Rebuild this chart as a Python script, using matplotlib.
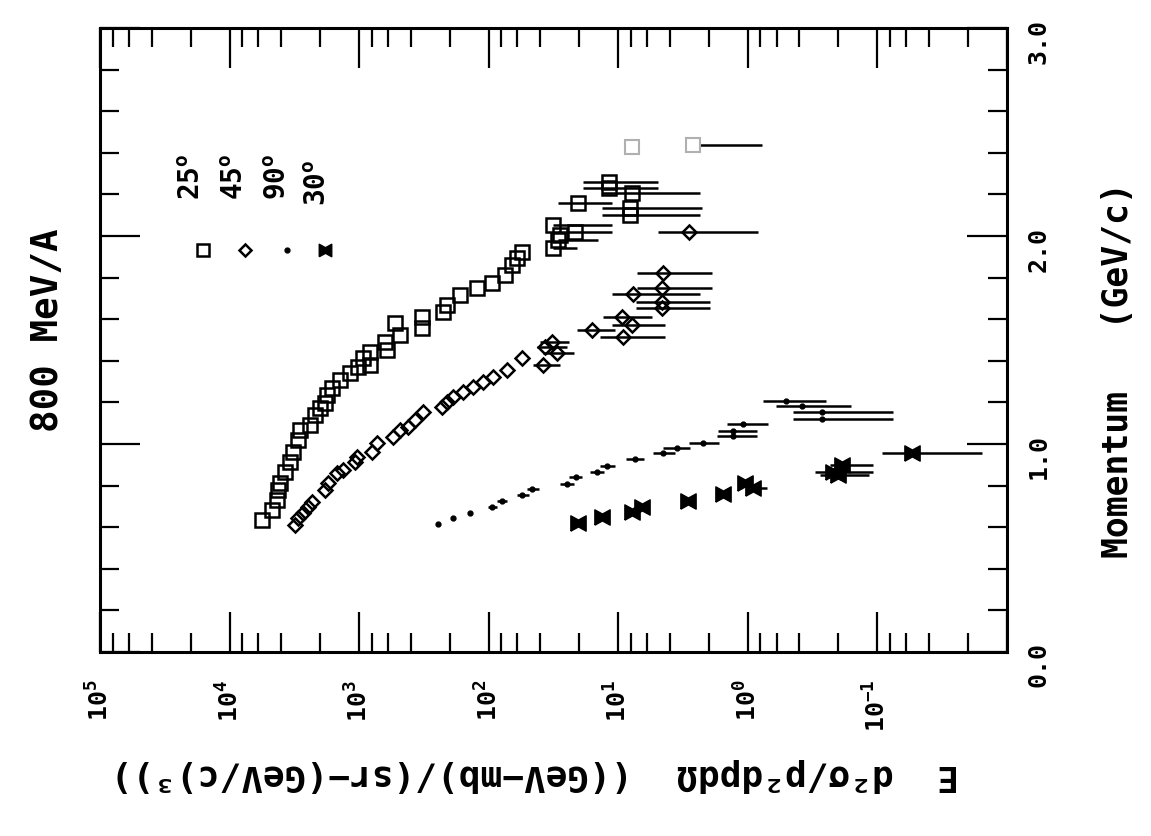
import numpy as np
import matplotlib
matplotlib.use("Agg")
import matplotlib.pyplot as plt
from matplotlib.ticker import LogLocator, NullFormatter, MultipleLocator

plt.rcParams['font.family'] = ['DejaVu Sans Mono']
plt.rcParams['font.weight'] = 'bold'
plt.rcParams['mathtext.fontset'] = 'custom'
plt.rcParams['mathtext.rm'] = 'DejaVu Sans Mono:bold'
plt.rcParams['mathtext.it'] = 'DejaVu Sans Mono:bold'
plt.rcParams['mathtext.bf'] = 'DejaVu Sans Mono:bold'

# 25 deg (open squares): momentum (GeV/c), cross section
sq_p = [0.635, 0.683, 0.731, 0.779, 0.813, 0.865, 0.913, 0.962, 1.019, 1.067,
        1.091, 1.139, 1.173, 1.197, 1.236, 1.269, 1.308, 1.341, 1.370, 1.413,
        1.442, 1.380, 1.490, 1.452, 1.582, 1.524, 1.611, 1.558, 1.635, 1.668,
        1.716, 1.750, 1.774, 1.813, 1.861, 1.894, 1.923, 1.942, 1.981, 2.005,
        2.053, 2.019, 2.159, 2.135, 2.101, 2.207, 2.260, 2.231]
sq_s = [5620, 4710, 4310, 4240, 4080, 3740, 3420, 3240, 2970, 2860,
        2400, 2190, 2010, 1840, 1770, 1620, 1410, 1180, 1020, 935,
        826, 826, 632, 610, 530, 484, 327, 327, 225, 210,
        167, 123, 94, 75, 66, 60, 55, 32, 29, 28,
        32, 21.6, 20.5, 8.13, 8.13, 7.85, 11.8, 11.8]
sq_bar_p = [1.942, 1.981, 2.019, 2.053, 2.159, 2.135, 2.101, 2.207, 2.260, 2.231]
sq_bar_hi = [32, 29, 29.3, 32, 29, 13.4, 13.4, 13.3, 18.8, 18.8]
sq_bar_lo = [20.8, 14.4, 11.2, 11.2, 11.2, 2.26, 2.35, 2.35, 4.95, 4.95]
# faint points near the top
sqf_p = [2.428, 2.438]
sqf_s = [7.85, 2.66]
sqf_bar_p = [2.438]
sqf_bar_hi = [2.34]
sqf_bar_lo = [0.78]

# 45 deg (open diamonds)
dm_p = [0.611, 0.644, 0.668, 0.697, 0.721, 0.779, 0.813, 0.861, 0.875, 0.913,
        0.938, 0.962, 1.005, 1.034, 1.067, 1.082, 1.115, 1.154, 1.178, 1.202,
        1.226, 1.250, 1.274, 1.298, 1.322, 1.356, 1.413, 1.380, 1.466, 1.490,
        1.438, 1.548, 1.611, 1.572, 1.514, 1.721, 1.683, 1.654, 1.822, 1.750,
        2.019]
dm_s = [3130, 2970, 2720, 2480, 2310, 1840, 1740, 1480, 1330, 1080,
        1040, 796, 729, 548, 484, 420, 371, 322, 230, 210,
        189, 158, 132, 111, 93, 72, 55, 38, 37, 32.5,
        29.8, 16.0, 9.38, 7.85, 9.2, 7.71, 4.61, 4.61, 4.53, 4.61,
        2.85]
dm_bar_p = [1.380, 1.466, 1.490, 1.438, 1.548, 1.611, 1.572, 1.514, 1.721,
            1.683, 1.654, 1.822, 1.750, 2.019]
dm_bar_hi = [45.6, 42.5, 40, 38, 20.8, 13.2, 11.2, 13.9, 11.2, 7.31, 7.31, 7.2, 7.2, 4.95]
dm_bar_lo = [28.3, 25, 24, 22, 10.6, 5.5, 4.37, 4.37, 2.35, 1.96, 1.96, 1.9, 1.9, 0.84]

# 90 deg (dots)
dt_p = [0.615, 0.644, 0.668, 0.697, 0.726, 0.755, 0.784, 0.808, 0.841, 0.865,
        0.894, 0.928, 0.957, 0.981, 1.005, 1.038, 1.063, 1.096, 1.207, 1.183,
        1.154, 1.120]
dt_s = [247, 189, 140, 94, 79, 55, 46, 25, 21.2, 14.6,
        12.2, 7.45, 4.53, 3.53, 2.22, 1.31, 1.31, 1.09, 0.509, 0.383,
        0.268, 0.268]
dt_bar_hi = [247, 189, 140, 102, 86, 61, 51, 28, 24, 16.5,
             13.8, 8.7, 5.4, 4.53, 2.85, 1.73, 1.70, 1.45, 0.766, 0.608,
             0.45, 0.45]
dt_bar_lo = [247, 189, 140, 87, 72, 49, 41, 22, 19, 12.8,
             10.6, 6.3, 3.66, 2.8, 1.67, 0.853, 0.853, 0.70, 0.25, 0.16,
             0.076, 0.076]

# 30 deg (bowties)
bt_p = [0.620, 0.649, 0.673, 0.697, 0.726, 0.760, 0.813, 0.788, 0.865, 0.899, 0.851, 0.957]
bt_s = [20.5, 13.4, 7.85, 6.58, 2.90, 1.56, 1.05, 0.914, 0.221, 0.188, 0.202, 0.0543]
bt_bar_p = [0.788, 0.865, 0.899, 0.851, 0.957]
bt_bar_hi = [0.914, 0.304, 0.233, 0.278, 0.0925]
bt_bar_lo = [0.71, 0.108, 0.108, 0.116, 0.0156]

legend_labels = ['25', '45', '90', '30']

x_major = [1e5, 1e4, 1e3, 1e2, 1e1, 1e0, 1e-1, 1e-2]
x_labels = [r'$\mathrm{10^{5}}$', r'$\mathrm{10^{4}}$', r'$\mathrm{10^{3}}$',
            r'$\mathrm{10^{2}}$', r'$\mathrm{10^{1}}$', r'$\mathrm{10^{0}}$',
            r'$\mathrm{10^{-1}}$', '']
y_major = [0.0, 1.0, 2.0, 3.0]
y_labels = ['0.0', '1.0', '2.0', '3.0']

bowtie = [(-1, -1), (-1, 1), (0, 0.45), (1, 1), (1, -1), (0, -0.45), (-1, -1)]

fig = plt.figure(figsize=(11.51, 8.36), dpi=100)
ax = fig.add_axes([0.0869, 0.2201, 0.7880, 0.7464])
ax.set_xscale('log')
ax.set_xlim(1e5, 1e-2)
ax.set_ylim(0, 3)

blw = 1.8
ax.hlines(sq_bar_p, sq_bar_lo, sq_bar_hi, color='black', lw=blw)
ax.hlines(sqf_bar_p, sqf_bar_lo, sqf_bar_hi, color='black', lw=blw)
ax.hlines(dm_bar_p, dm_bar_lo, dm_bar_hi, color='black', lw=blw)
ax.hlines(dt_p, dt_bar_lo, dt_bar_hi, color='black', lw=blw)
ax.hlines(bt_bar_p, bt_bar_lo, bt_bar_hi, color='black', lw=blw)

ax.plot(sq_s, sq_p, ls='none', marker='s', ms=9.5, mfc='none', mec='black', mew=1.8)
ax.plot(sqf_s, sqf_p, ls='none', marker='s', ms=9.5, mfc='none', mec='#b0b0b0', mew=1.5)
ax.plot(dm_s, dm_p, ls='none', marker='D', ms=7, mfc='none', mec='black', mew=1.8)
ax.plot(dt_s, dt_p, ls='none', marker='o', ms=3.5, color='black')
ax.plot(bt_s, bt_p, ls='none', marker=bowtie, ms=11, color='black')

# legend (markers + angle labels)
leg_x = [0.1136, 0.160, 0.206, 0.248]
leg_mk = [dict(marker='s', ms=9, mfc='none', mec='black', mew=1.8),
          dict(marker='D', ms=6, mfc='none', mec='black', mew=1.8),
          dict(marker='o', ms=3.5, color='black'),
          dict(marker=bowtie, ms=9, color='black')]
for lx, mk in zip(leg_x, leg_mk):
    ax.plot([lx], [0.644], ls='none', transform=ax.transAxes, clip_on=False, **mk)
txt_x = [0.101, 0.149, 0.196, 0.240]
txt_y = [0.762, 0.762, 0.762, 0.752]
for tx, ty, lab in zip(txt_x, txt_y, legend_labels):
    ax.text(tx, ty, lab + r'$^{\mathrm{o}}$', transform=ax.transAxes, rotation=90,
            ha='center', va='center', fontsize=20, fontweight='bold')

ax.set_xticks(x_major, x_labels)
ax.xaxis.set_minor_locator(LogLocator(base=10, subs=(2, 4, 6, 8), numticks=20))
ax.xaxis.set_minor_formatter(NullFormatter())
ax.set_yticks(y_major, y_labels)
ax.yaxis.set_minor_locator(MultipleLocator(0.2))

ax.tick_params(which='both', direction='in', top=True, right=True, bottom=True, left=True,
               labelleft=False, labelright=True, width=1.6, labelsize=18)
ax.tick_params(which='major', length=29)
ax.tick_params(which='minor', length=14)
ax.tick_params(axis='x', labelrotation=90, pad=20)
ax.tick_params(axis='y', labelrotation=90, pad=14)
for lab in ax.get_xticklabels() + ax.get_yticklabels():
    lab.set_fontweight('bold')
for sp in ax.spines.values():
    sp.set_linewidth(2.2)

fig.text(0.042, 0.605, '800 MeV/A', rotation=90, ha='center', va='center',
         fontsize=27, fontweight='bold')
fig.text(0.971, 0.557, 'Momentum   (GeV/c)', rotation=90, ha='center', va='center',
         fontsize=25, fontweight='bold')
fig.text(0.465, 0.073, 'E  d\u00b2\u03c3/p\u00b2dpd\u03a9  ((GeV\u2212mb)/(sr\u2212(GeV/c)\u00b3))',
         rotation=180, ha='center', va='center', fontsize=26, fontweight='bold')

fig.savefig('out.png', dpi=100)
